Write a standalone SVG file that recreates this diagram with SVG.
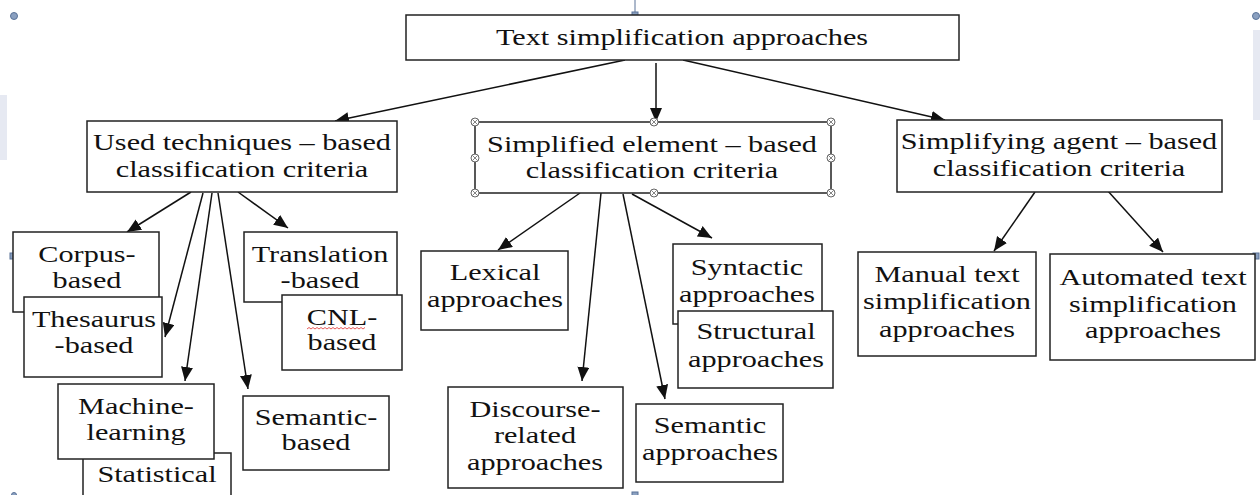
<svg xmlns="http://www.w3.org/2000/svg" width="1260" height="495" viewBox="0 0 1260 495">
<style>
.box{fill:#fff;stroke:#222;stroke-width:1.5}
.t{font-family:"Liberation Serif","Times New Roman",serif;font-size:24px;fill:#111;text-anchor:middle}
.c{fill:none;stroke:#111;stroke-width:1.5;marker-end:url(#ah)}
.h{fill:#fff;stroke:#666;stroke-width:1}
.hx{stroke:#666;stroke-width:0.8}
.sel{fill:#8aa0c0;stroke:#5a7398;stroke-width:1}
</style>
<defs>
<marker id="ah" markerUnits="userSpaceOnUse" markerWidth="15" markerHeight="13" refX="14" refY="6" orient="auto">
<path d="M0,0 L14,6 L0,12 z" fill="#111"/>
</marker>
<g id="hd"><circle r="4" class="h"/><path d="M-2.6,-2.6 L2.6,2.6 M-2.6,2.6 L2.6,-2.6" class="hx"/></g>
</defs>
<rect width="1260" height="495" fill="#fff"/>
<g id="decor">
<rect x="0" y="95" width="7" height="65" fill="#e6e9f2"/>
<rect x="1253" y="30" width="7" height="90" fill="#e6e9f2"/>
<circle cx="14" cy="16" r="3.5" class="sel"/>
<circle cx="1256" cy="16" r="3.5" class="sel"/>
<line x1="635" y1="0" x2="635" y2="15" stroke="#5a7398" stroke-width="1"/>
<rect x="632" y="12" width="6" height="6" class="sel"/>
<rect x="10" y="253" width="6" height="6" class="sel"/>
<rect x="1253" y="253" width="6" height="6" class="sel"/>
<rect x="632" y="492" width="6" height="6" class="sel"/>
<circle cx="14" cy="495" r="2.5" class="sel"/>
</g>
<g id="connectors">
<path class="c" d="M625,60 L335,121"/>
<path class="c" d="M656,63 L656,122"/>
<path class="c" d="M683,60 L945,120"/>
<path class="c" d="M191,192 L127,232"/>
<path class="c" d="M203,193 L165,337"/>
<path class="c" d="M212,193 L185,381"/>
<path class="c" d="M218,193 L248,389"/>
<path class="c" d="M238,192 L288,228"/>
<path class="c" d="M580,193 L498,250"/>
<path class="c" d="M601,193 L582,381"/>
<path class="c" d="M623,194 L665,399"/>
<path class="c" d="M632,194 L712,238"/>
<path class="c" d="M1035,192 L994,251"/>
<path class="c" d="M1107,190 L1163,252"/>
</g>
<g id="top"><rect class="box" x="406" y="15" width="553" height="45"/>
<text class="t" transform="matrix(1.26 0 0 1 682 0)" x="0" y="45">Text simplification approaches</text></g>
<g id="used"><rect class="box" x="87" y="121" width="310" height="71"/>
<text class="t" transform="matrix(1.26 0 0 1 242 0)" x="0" y="150">Used techniques – based</text>
<text class="t" transform="matrix(1.26 0 0 1 242 0)" x="0" y="177">classification criteria</text></g>
<g id="simplified"><rect class="box" x="475" y="122" width="356" height="71"/>
<text class="t" transform="matrix(1.26 0 0 1 652 0)" x="0" y="152">Simplified element – based</text>
<text class="t" transform="matrix(1.26 0 0 1 652 0)" x="0" y="178">classification criteria</text>
<use href="#hd" x="475" y="122"/><use href="#hd" x="654" y="122"/><use href="#hd" x="831" y="122"/>
<use href="#hd" x="475" y="158"/><use href="#hd" x="831" y="158"/>
<use href="#hd" x="475" y="193"/><use href="#hd" x="654" y="193"/><use href="#hd" x="831" y="193"/></g>
<g id="agent"><rect class="box" x="897" y="120" width="325" height="72"/>
<text class="t" transform="matrix(1.26 0 0 1 1059 0)" x="0" y="149">Simplifying agent – based</text>
<text class="t" transform="matrix(1.26 0 0 1 1059 0)" x="0" y="176">classification criteria</text></g>
<g id="corpus"><rect class="box" x="13" y="232" width="146" height="80"/>
<text class="t" transform="matrix(1.26 0 0 1 87 0)" x="0" y="262">Corpus-</text>
<text class="t" transform="matrix(1.26 0 0 1 87 0)" x="0" y="288">based</text></g>
<g id="thesaurus"><rect class="box" x="24" y="297" width="138" height="80"/>
<text class="t" transform="matrix(1.26 0 0 1 94 0)" x="0" y="327">Thesaurus</text>
<text class="t" transform="matrix(1.26 0 0 1 94 0)" x="0" y="353">-based</text></g>
<g id="translation"><rect class="box" x="244" y="232" width="153" height="70"/>
<text class="t" transform="matrix(1.26 0 0 1 320 0)" x="0" y="262">Translation</text>
<text class="t" transform="matrix(1.26 0 0 1 320 0)" x="0" y="288">-based</text></g>
<g id="cnl"><rect class="box" x="282" y="295" width="120" height="75"/>
<text class="t" transform="matrix(1.26 0 0 1 342 0)" x="0" y="325">CNL-</text>
<text class="t" transform="matrix(1.26 0 0 1 342 0)" x="0" y="350">based</text>
<path d="M307,329 l2,-1.5 l2,1.5 l2,-1.5 l2,1.5 l2,-1.5 l2,1.5 l2,-1.5 l2,1.5 l2,-1.5 l2,1.5 l2,-1.5 l2,1.5 l2,-1.5 l2,1.5 l2,-1.5 l2,1.5 l2,-1.5 l2,1.5 l2,-1.5 l2,1.5 l2,-1.5 l2,1.5 l2,-1.5 l2,1.5 l2,-1.5 l2,1.5 l2,-1.5 l2,1.5 l2,-1.5" fill="none" stroke="#e03030" stroke-width="0.8"/></g>
<g id="statistical"><rect class="box" x="83" y="453" width="148" height="60"/>
<text class="t" transform="matrix(1.26 0 0 1 157 0)" x="0" y="482">Statistical</text></g>
<g id="machine"><rect class="box" x="58" y="384" width="156" height="75"/>
<text class="t" transform="matrix(1.26 0 0 1 136 0)" x="0" y="414">Machine-</text>
<text class="t" transform="matrix(1.26 0 0 1 136 0)" x="0" y="440">learning</text></g>
<g id="semantic-based"><rect class="box" x="243" y="396" width="146" height="74"/>
<text class="t" transform="matrix(1.26 0 0 1 316 0)" x="0" y="425">Semantic-</text>
<text class="t" transform="matrix(1.26 0 0 1 316 0)" x="0" y="450">based</text></g>
<g id="lexical"><rect class="box" x="421" y="251" width="147" height="79"/>
<text class="t" transform="matrix(1.26 0 0 1 495 0)" x="0" y="280">Lexical</text>
<text class="t" transform="matrix(1.26 0 0 1 495 0)" x="0" y="307">approaches</text></g>
<g id="discourse"><rect class="box" x="448" y="387" width="175" height="101"/>
<text class="t" transform="matrix(1.26 0 0 1 535 0)" x="0" y="417">Discourse-</text>
<text class="t" transform="matrix(1.26 0 0 1 535 0)" x="0" y="443">related</text>
<text class="t" transform="matrix(1.26 0 0 1 535 0)" x="0" y="470">approaches</text></g>
<g id="semantic"><rect class="box" x="636" y="404" width="147" height="78"/>
<text class="t" transform="matrix(1.26 0 0 1 710 0)" x="0" y="433">Semantic</text>
<text class="t" transform="matrix(1.26 0 0 1 710 0)" x="0" y="460">approaches</text></g>
<g id="syntactic"><rect class="box" x="673" y="244" width="149" height="80"/>
<text class="t" transform="matrix(1.26 0 0 1 747 0)" x="0" y="275">Syntactic</text>
<text class="t" transform="matrix(1.26 0 0 1 747 0)" x="0" y="302">approaches</text></g>
<g id="structural"><rect class="box" x="678" y="311" width="155" height="77"/>
<text class="t" transform="matrix(1.26 0 0 1 756 0)" x="0" y="339">Structural</text>
<text class="t" transform="matrix(1.26 0 0 1 756 0)" x="0" y="367">approaches</text></g>
<g id="manual"><rect class="box" x="858" y="252" width="178" height="104"/>
<text class="t" transform="matrix(1.26 0 0 1 947 0)" x="0" y="282">Manual text</text>
<text class="t" transform="matrix(1.26 0 0 1 947 0)" x="0" y="309">simplification</text>
<text class="t" transform="matrix(1.26 0 0 1 947 0)" x="0" y="337">approaches</text></g>
<g id="automated"><rect class="box" x="1050" y="254" width="205" height="106"/>
<text class="t" transform="matrix(1.26 0 0 1 1153 0)" x="0" y="285">Automated text</text>
<text class="t" transform="matrix(1.26 0 0 1 1153 0)" x="0" y="312">simplification</text>
<text class="t" transform="matrix(1.26 0 0 1 1153 0)" x="0" y="338">approaches</text></g>
</svg>
